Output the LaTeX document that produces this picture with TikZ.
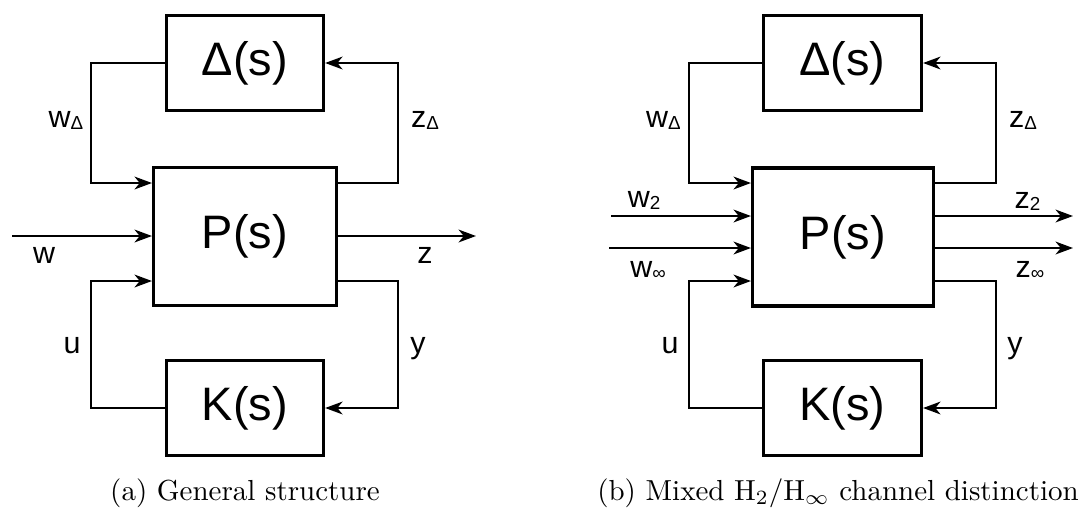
\documentclass[tikz,border=0pt]{standalone}
\usepackage{fontspec}
\usepackage{amsmath,amssymb}
\usetikzlibrary{arrows.meta}
\newfontfamily\sigfont{Liberation Sans}
\newcommand{\sigsub}[1]{\raisebox{-1pt}{\fontsize{6.5}{6.5}\selectfont #1}}
\tikzset{
  block/.style={draw, line width=1.1pt, inner sep=0pt, minimum width=54.2pt,
    minimum height=32.8pt, font=\sigfont\fontsize{16.2}{18}\selectfont},
  plant/.style={block, minimum width=63.1pt, minimum height=47.6pt},
  sig/.style={line width=0.8pt, -{Stealth[length=6pt, width=4.4pt, inset=1.8pt]}},
  lbl/.style={font=\sigfont\fontsize{10.5}{12}\selectfont, anchor=base},
  capt/.style={anchor=base}
}

\begin{document}
\begin{tikzpicture}[x=0.345pt, y=-0.345pt]
  \useasboundingbox (0,0) rectangle (1090,511);
  % (a)
  \node[block] (aD) at (245, 63) {Δ(s)};
  \node[plant] (aP) at (245, 236.5) {P(s)};
  \node[block] (aK) at (245, 408) {K(s)};
  \coordinate (a-wd) at (91, 183);
  \coordinate (a-zd) at (398, 183);
  \coordinate (a-w) at (12, 236);
  \coordinate (a-z) at (476, 236);
  \coordinate (a-u) at (91, 281);
  \coordinate (a-y) at (398, 281);
  \draw[sig] (aD.west) -| (a-wd) -- (a-wd -| aP.west);
  \draw[sig] (a-zd -| aP.east) -- (a-zd) |- (aD.east);
  \draw[sig] (a-w) -- (a-w -| aP.west);
  \draw[sig] (a-z -| aP.east) -- (a-z);
  \draw[sig] (aK.west) -| (a-u) -- (a-u -| aP.west);
  \draw[sig] (a-y -| aP.east) -- (a-y) |- (aK.east);
  \node[lbl] (a-lwd) at (66, 127) {w\sigsub{Δ}};
  \node[lbl] (a-lzd) at (425, 127) {z\sigsub{Δ}};
  \node[lbl] (a-lw) at (44, 263) {w};
  \node[lbl] (a-lz) at (425, 263) {z};
  \node[lbl] (a-lu) at (72, 353) {u};
  \node[lbl] (a-ly) at (418, 353) {y};
  \node[capt] (a-cap) at (245, 500) {(a) General structure};
  % (b)
  \node[block, minimum width=54.5pt] (bD) at (842.5, 63) {Δ(s)};
  \node[plant, minimum width=62.4pt] (bP) at (843, 237) {P(s)};
  \node[block, minimum width=54.5pt] (bK) at (842.5, 408) {K(s)};
  \coordinate (b-wd) at (689, 183);
  \coordinate (b-zd) at (996, 183);
  \coordinate (b-w2) at (611, 216);
  \coordinate (b-wi) at (609, 248);
  \coordinate (b-z2) at (1073, 216);
  \coordinate (b-zi) at (1073, 248);
  \coordinate (b-u) at (689, 281);
  \coordinate (b-y) at (996, 281);
  \draw[sig] (bD.west) -| (b-wd) -- (b-wd -| bP.west);
  \draw[sig] (b-zd -| bP.east) -- (b-zd) |- (bD.east);
  \draw[sig] (b-w2) -- (b-w2 -| bP.west);
  \draw[sig] (b-wi) -- (b-wi -| bP.west);
  \draw[sig] (b-z2 -| bP.east) -- (b-z2);
  \draw[sig] (b-zi -| bP.east) -- (b-zi);
  \draw[sig] (bK.west) -| (b-u) -- (b-u -| bP.west);
  \draw[sig] (b-y -| bP.east) -- (b-y) |- (bK.east);
  \node[lbl] (b-lwd) at (663.5, 127) {w\sigsub{Δ}};
  \node[lbl] (b-lzd) at (1023, 127) {z\sigsub{Δ}};
  \node[lbl] (b-lw2) at (644, 207) {w\sigsub{2}};
  \node[lbl] (b-lwi) at (648, 277) {w\sigsub{∞}};
  \node[lbl] (b-lz2) at (1027.5, 208) {z\sigsub{2}};
  \node[lbl] (b-lzi) at (1030, 277) {z\sigsub{∞}};
  \node[lbl] (b-lu) at (670, 353) {u};
  \node[lbl] (b-ly) at (1015, 353) {y};
  \node[capt] (b-cap) at (838, 500) {(b) Mixed H$_2$/H$_\infty$ channel distinction};
\end{tikzpicture}
\end{document}
